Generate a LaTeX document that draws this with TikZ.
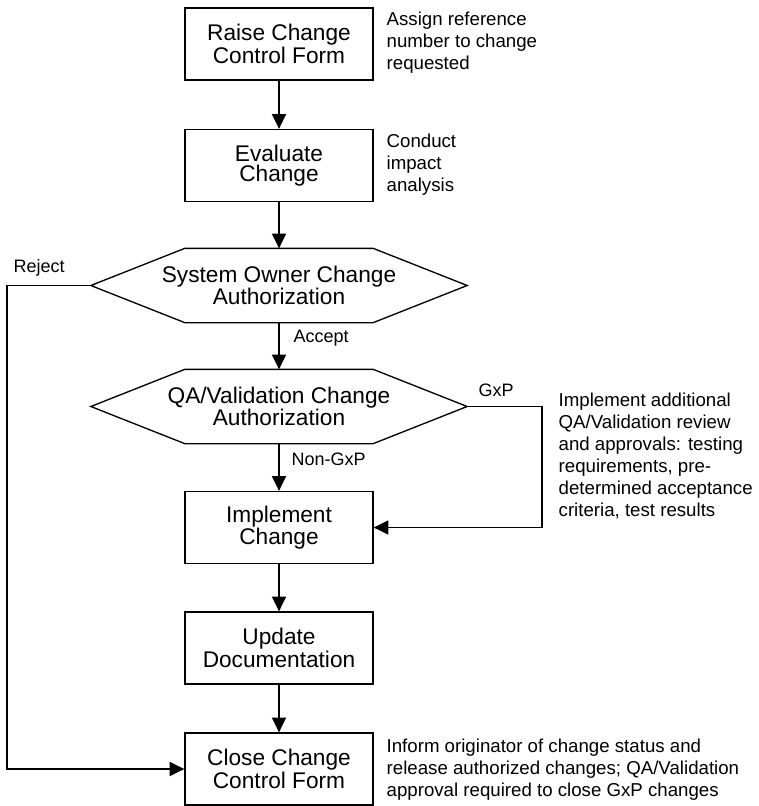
\documentclass[tikz,border=0pt]{standalone}
\usepackage{fontspec}
\setmainfont{Liberation Sans}
\usetikzlibrary{arrows.meta,calc}
\begin{document}
\begin{tikzpicture}[x=0.75pt,y=-0.75pt,
  line width=1pt,
  stepbox/.style={draw, minimum width=141pt, minimum height=54pt, align=center,
    inner sep=0pt, font=\fontsize{17}{15.5}\selectfont},
  hexbox/.style={minimum width=281.25pt, minimum height=54.75pt, align=center,
    inner sep=0pt, font=\fontsize{17}{15.5}\selectfont},
  note/.style={anchor=west, align=left, inner sep=0pt,
    font=\fontsize{14}{16.5}\selectfont},
  lbl/.style={anchor=west, inner sep=0pt, font=\fontsize{13.5}{16}\selectfont},
  flow/.style={-{Triangle[length=11pt,width=10.5pt]}}
]
\path[use as bounding box] (0,0) rectangle (759,806);

% process steps
\node[stepbox] (raise)    at (279,44)    {Raise Change\\Control Form};
\node[stepbox] (evaluate) at (279,165.5) {Evaluate\\Change};
\node[hexbox]  (sysauth)  at (279,285.5) {System Owner Change\\Authorization};
\node[hexbox]  (qaauth)   at (279,406.5) {QA/Validation Change\\Authorization};
\node[stepbox] (impl)     at (279,527.5) {Implement\\Change};
\node[stepbox] (update)   at (279,648)   {Update\\Documentation};
\node[stepbox] (close)    at (279,769)   {Close Change\\Control Form};

% hexagonal decision outlines
\foreach \h in {sysauth,qaauth}{
  \draw (\h.west) -- ($(\h.north west)+(94,0)$) -- ($(\h.north east)+(-94,0)$)
    -- (\h.east) -- ($(\h.south east)+(-94,0)$) -- ($(\h.south west)+(94,0)$) -- cycle;
}

% turning points of the side branches
\coordinate (rejturn) at (7,285.5);
\coordinate (gxpturn) at (542,406.5);

% connectors
\draw[flow] (raise) -- (evaluate);
\draw[flow] (evaluate) -- (sysauth);
\draw[flow] (sysauth) -- (qaauth);
\draw[flow] (qaauth) -- (impl);
\draw[flow] (impl) -- (update);
\draw[flow] (update) -- (close);
\draw[flow] (sysauth.west) -- (rejturn) |- (close.west);
\draw[flow] (qaauth.east) -- (gxpturn) |- (impl.east);

% branch labels
\node[lbl] (lreject) at (13,268)  {Reject};
\node[lbl] (laccept) at (293,338) {Accept};
\node[lbl] (lnongxp) at (291,459) {Non-GxP};
\node[lbl] (lgxp)    at (478,390) {GxP};

% side notes
\node[note] (n1) at (386,43)  {Assign reference\\number to change\\requested};
\node[note] (n2) at (386,165) {Conduct\\impact\\analysis};
\node[note] (n3) at (558,456) {Implement additional\\QA/Validation review\\and approvals: testing\\requirements, pre-\\determined acceptance\\criteria, test results};
\node[note] (n4) at (386,770) {Inform originator of change status and\\release authorized changes; QA/Validation\\approval required to close GxP changes};
\end{tikzpicture}
\end{document}
